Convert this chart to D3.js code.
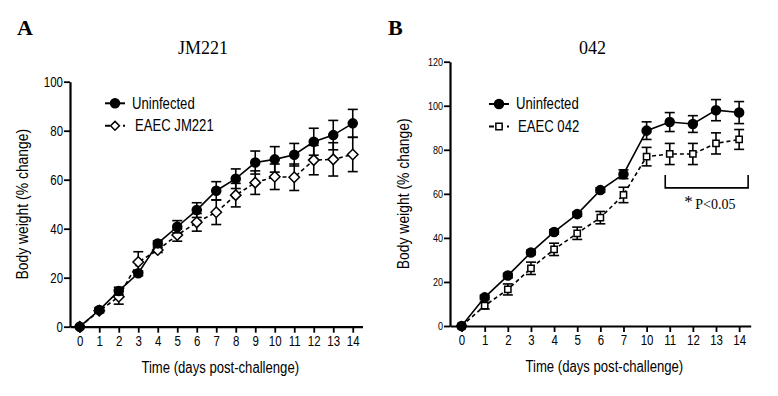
<!DOCTYPE html>
<html>
<head>
<meta charset="utf-8">
<script src="https://cdn.jsdelivr.net/npm/d3@7"></script>
<style>
  body { margin: 0; background: #fff; }
  .tick text, .lbl { font-family: "Liberation Sans", Arial, sans-serif; }
  .serif { font-family: "Liberation Serif", "DejaVu Serif", serif; }
</style>
</head>
<body>
<div id="chart"></div>
<script>
// panel A: JM221
const daysA = ["0","1","2","3","4","5","6","7","8","9","10","11","12","13","14"];
const uninfA = [0, 6.8, 14.6, 21.8, 34, 40.8, 47.6, 55.5, 60.4, 67, 68.3, 70.2, 75.5, 78.2, 83];
const uninfAErr = [0, 1, 1.5, 1, 1, 2.5, 3, 3.7, 4, 4.7, 5.2, 4.6, 5.5, 6, 5.7];
const jm221 = [0, 6.5, 12.2, 26.4, 31.3, 37.4, 42.6, 46.7, 53.7, 58.8, 61.2, 61, 68, 68.3, 70.3];
const jm221Err = [0, 0.8, 3, 4.2, 1, 2.5, 3.6, 5, 4.8, 4.8, 5.2, 5.4, 6, 6.8, 7];
const ticksA = [0, 20, 40, 60, 80, 100];

// panel B: 042
const daysB = ["0","1","2","3","4","5","6","7","10","11","12","13","14"];
const uninfB = [0, 13, 22.9, 33.4, 42.7, 50.8, 61.7, 68.9, 88.7, 92.6, 91.7, 98, 96.9];
const uninfBErr = [0, 1, 1, 1, 1, 1, 1, 2, 4, 4.3, 3.8, 4.8, 5];
const eaec042 = [0, 9.2, 16.6, 26.2, 34.8, 42.1, 49.2, 59.5, 76.9, 78.1, 78.1, 82.9, 84.7];
const eaec042Err = [0, 1.5, 2.5, 2.8, 2.8, 2.8, 2.8, 3.5, 4.2, 4.8, 4.8, 4.8, 4.5];
const ticksB = [0, 20, 40, 60, 80, 100, 120];

const width = 778, height = 396;
const narrow = 0.82; // the original uses a condensed sans face

const svg = d3.select("#chart").append("svg")
    .attr("width", width)
    .attr("height", height);

// squeeze a text element horizontally around its anchor x
function squeeze(sel, k) {
    sel.each(function() {
        const ax = +(this.getAttribute("x") || 0);
        const prev = this.getAttribute("transform") || "";
        d3.select(this).attr("transform", prev + " translate(" + ax + ",0) scale(" + k + ",1) translate(" + (-ax) + ",0)");
    });
}

function drawPanel(opt) {
    const g = svg.append("g");

    const x = d3.scalePoint()
        .domain(opt.days)
        .range([opt.left, opt.right])
        .padding(0.5);
    const y = d3.scaleLinear()
        .domain([0, opt.ymax])
        .range([opt.bottom, opt.top]);

    // axes
    const xAxis = d3.axisBottom(x).tickSize(6).tickSizeOuter(0).tickPadding(3);
    const yAxis = d3.axisLeft(y).tickValues(opt.yticks).tickSize(6).tickSizeOuter(0).tickPadding(1);

    const gx = g.append("g")
        .attr("transform", "translate(0," + opt.bottom + ")")
        .call(xAxis);
    const gy = g.append("g")
        .attr("transform", "translate(" + opt.left + ",0)")
        .call(yAxis);

    [gx, gy].forEach(a => {
        a.select(".domain").attr("stroke", "#000").attr("stroke-width", 2.2);
        a.selectAll(".tick line").attr("stroke", "#000").attr("stroke-width", 1.8);
        a.selectAll(".tick text").attr("fill", "#000").attr("font-size", 14);
    });
    gy.selectAll(".tick text").attr("font-size", opt.ytickSize);
    squeeze(gx.selectAll(".tick text"), narrow);
    squeeze(gy.selectAll(".tick text"), narrow);

    g.append("text")
        .attr("class", "lbl")
        .attr("x", (opt.left + opt.right) / 2 + 4)
        .attr("y", opt.bottom + 46)
        .attr("text-anchor", "middle")
        .attr("font-size", 16)
        .call(squeeze, narrow)
        .text("Time (days post-challenge)");

    g.append("text")
        .attr("class", "lbl")
        .attr("transform", "translate(" + opt.ylabelX + "," + ((opt.top + opt.bottom) / 2) + ") rotate(-90) scale(0.87,1)")
        .attr("text-anchor", "middle")
        .attr("font-size", 16)
        .text("Body weight (% change)");

    // titles
    g.append("text")
        .attr("class", "serif")
        .attr("x", opt.letterX)
        .attr("y", 35)
        .attr("font-size", 22)
        .attr("font-weight", "bold")
        .text(opt.letter);
    g.append("text")
        .attr("class", "serif")
        .attr("x", opt.titleX)
        .attr("y", 54)
        .attr("text-anchor", "middle")
        .attr("font-size", 18)
        .text(opt.title);

    const series = [
        { vals: opt.infected, err: opt.infectedErr, dash: "4,3", shape: opt.shape, fill: "#fff" },
        { vals: opt.uninf, err: opt.uninfErr, dash: null, shape: "circle", fill: "#000" }
    ];

    series.forEach(s => {
        const pts = opt.days.map((d, i) => ({ d: d, v: s.vals[i], e: s.err[i] }));

        const line = d3.line()
            .x(p => x(p.d))
            .y(p => y(p.v));

        g.append("path")
            .datum(pts)
            .attr("fill", "none")
            .attr("stroke", "#000")
            .attr("stroke-width", 1.6)
            .attr("stroke-dasharray", s.dash)
            .attr("d", line);

        // error bars
        const eb = g.append("g").attr("stroke", "#000").attr("stroke-width", 1.6);
        eb.selectAll("line.v")
            .data(pts)
            .enter()
            .append("line")
            .attr("x1", p => x(p.d))
            .attr("x2", p => x(p.d))
            .attr("y1", p => y(p.v - p.e))
            .attr("y2", p => y(p.v + p.e));
        eb.selectAll("line.top")
            .data(pts)
            .enter()
            .append("line")
            .attr("x1", p => x(p.d) - 5)
            .attr("x2", p => x(p.d) + 5)
            .attr("y1", p => y(p.v + p.e))
            .attr("y2", p => y(p.v + p.e));
        eb.selectAll("line.bot")
            .data(pts)
            .enter()
            .append("line")
            .attr("x1", p => x(p.d) - 5)
            .attr("x2", p => x(p.d) + 5)
            .attr("y1", p => y(p.v - p.e))
            .attr("y2", p => y(p.v - p.e));

        // markers
        const sym = s.shape === "circle" ? d3.symbolCircle : (s.shape === "diamond" ? d3.symbolDiamond2 : d3.symbolSquare2);
        const size = s.shape === "circle" ? 64 : (s.shape === "diamond" ? 70 : 50);
        g.selectAll(null)
            .data(pts)
            .enter()
            .append("path")
            .attr("transform", p => "translate(" + x(p.d) + "," + y(p.v) + ")")
            .attr("d", d3.symbol().type(sym).size(size))
            .attr("fill", s.fill)
            .attr("stroke", "#000")
            .attr("stroke-width", 1.5);
    });

    // legend
    const legend = g.append("g");
    const items = [
        { name: "Uninfected", dash: null, shape: "circle", fill: "#000", tx: 0 },
        { name: opt.infName, dash: "4,3", shape: opt.shape, fill: "#fff", tx: opt.legendShift }
    ];
    items.forEach((it, i) => {
        const ly = opt.legendY + i * 22.5;
        legend.append("line")
            .attr("x1", opt.legendX)
            .attr("x2", opt.legendX + 20)
            .attr("y1", ly)
            .attr("y2", ly)
            .attr("stroke", "#000")
            .attr("stroke-width", 2)
            .attr("stroke-dasharray", it.dash ? "5,4" : null);
        const sym = it.shape === "circle" ? d3.symbolCircle : (it.shape === "diamond" ? d3.symbolDiamond2 : d3.symbolSquare2);
        legend.append("path")
            .attr("transform", "translate(" + (opt.legendX + 10) + "," + ly + ")")
            .attr("d", d3.symbol().type(sym).size(it.shape === "circle" ? 64 : 50))
            .attr("fill", it.fill)
            .attr("stroke", "#000")
            .attr("stroke-width", 1.5);
        legend.append("text")
            .attr("class", "lbl")
            .attr("x", opt.legendX + 27 + it.tx)
            .attr("y", ly + 5.5)
            .attr("font-size", 16)
            .call(squeeze, narrow)
            .text(it.name);
    });

    return { g: g, x: x, y: y };
}

drawPanel({
    days: daysA, uninf: uninfA, uninfErr: uninfAErr,
    infected: jm221, infectedErr: jm221Err, infName: "EAEC JM221", shape: "diamond",
    ymax: 100, yticks: ticksA, ytickSize: 14,
    left: 70, right: 362.5, top: 81.7, bottom: 326.7,
    ylabelX: 28, letter: "A", letterX: 17, title: "JM221", titleX: 203,
    legendX: 105, legendY: 103.3, legendShift: 3
});

const pB = drawPanel({
    days: daysB, uninf: uninfB, uninfErr: uninfBErr,
    infected: eaec042, infectedErr: eaec042Err, infName: "EAEC 042", shape: "square",
    ymax: 120, yticks: ticksB, ytickSize: 11,
    left: 450, right: 750.7, top: 61.7, bottom: 326,
    ylabelX: 409, letter: "B", letterX: 388, title: "042", titleX: 592.5,
    legendX: 489, legendY: 104, legendShift: 2
});

// significance bracket on panel B
const bx1 = pB.x("11") - 4.5, bx2 = pB.x("14") + 9;
const byTop = pB.y(68.6), byBot = pB.y(62.7);
pB.g.append("path")
    .attr("fill", "none")
    .attr("stroke", "#000")
    .attr("stroke-width", 1.6)
    .attr("d", "M" + bx1 + "," + byTop + "V" + byBot + "H" + bx2 + "V" + byTop);
pB.g.append("text")
    .attr("class", "serif")
    .attr("x", bx1 + 19)
    .attr("y", byBot + 19)
    .attr("font-size", 17)
    .text("*");
pB.g.append("text")
    .attr("class", "serif")
    .attr("x", bx1 + 30)
    .attr("y", byBot + 21)
    .attr("font-size", 14)
    .text("P<0.05");
</script>
</body>
</html>
